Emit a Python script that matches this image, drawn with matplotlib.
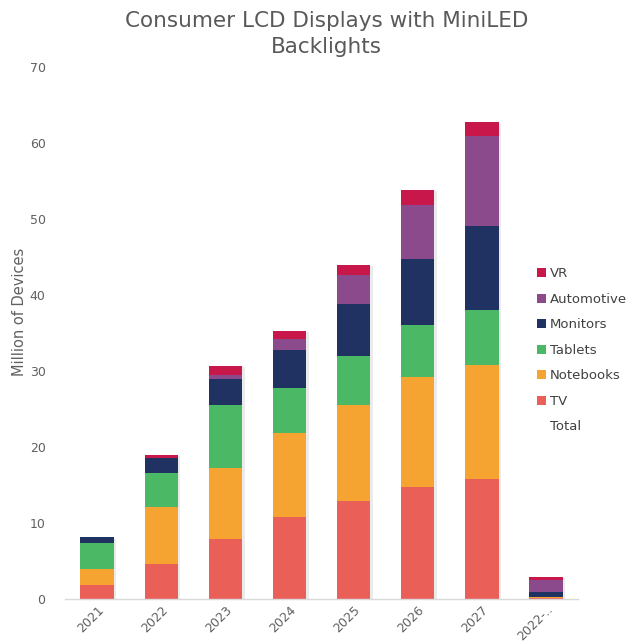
import matplotlib
matplotlib.use("Agg")
import matplotlib.pyplot as plt
import numpy as np
from matplotlib.patches import Patch

categories = ["2021", "2022", "2023", "2024", "2025", "2026", "2027", "2022-.."]
tv         = [1.8, 4.6, 7.85, 10.8, 12.9, 14.8, 15.8, 0.15]
notebooks  = [2.1, 7.5, 9.35, 11.0, 12.6, 14.4, 15.0, 0.1]
tablets    = [3.5, 4.5, 8.3, 6.0, 6.5, 6.85, 7.2, 0.05]
monitors   = [0.7, 1.9, 3.4, 4.9, 6.8, 8.65, 11.1, 0.6]
automotive = [0.0, 0.0, 0.6, 1.5, 3.8, 7.2, 11.8, 1.6]
vr         = [0.0, 0.5, 1.2, 1.1, 1.3, 1.9, 1.8, 0.35]

series_names = ["TV", "Notebooks", "Tablets", "Monitors", "Automotive", "VR"]
series_vals = [tv, notebooks, tablets, monitors, automotive, vr]
colors = ["#EA5F58", "#F5A431", "#4BB866", "#1F3262", "#8A4A8B", "#C8174B"]

plt.rcParams['font.family'] = ['DejaVu Sans']

fig = plt.figure(figsize=(6.4, 6.44), dpi=100)
ax = fig.add_axes([0.1016, 0.0699, 0.8016, 0.8261])

x = np.arange(len(categories))
bottom = np.zeros(len(categories))
width = 0.52
for name, vals, c in zip(series_names, series_vals, colors):
    v = np.array(vals)
    ax.bar(x + 0.04, v, width, bottom=bottom - 0.15, color="#d9d9d9", alpha=0.5, zorder=1, linewidth=0)
    ax.bar(x, v, width, bottom=bottom, color=c, label=name, zorder=2, linewidth=0)
    bottom += v

ax.set_xlim(-0.5, len(categories) - 0.5)
ax.set_ylim(0, 70)
ax.set_yticks(range(0, 71, 10))
ax.tick_params(axis="y", length=0, pad=14, labelsize=9, labelcolor="#606060")
ax.tick_params(axis="x", length=0, pad=3, labelsize=9, labelcolor="#606060")
ax.set_xticks(x)
ax.set_xticklabels(categories, rotation=45, ha="right", rotation_mode="anchor")
for s in ["top", "right", "left"]:
    ax.spines[s].set_visible(False)
ax.spines["bottom"].set_color("#d9d9d9")
ax.spines["bottom"].set_linewidth(1.0)

ax.set_ylabel("Million of Devices", fontsize=10.5, color="#606060")
ax.yaxis.set_label_coords(-0.075, 0.54)
fig.text(0.51, 0.947, "Consumer LCD Displays with MiniLED\nBacklights", ha="center", va="center",
         fontsize=15.5, color="#595959", linespacing=1.35)

handles = [Patch(facecolor=c, label=n) for n, c in zip(series_names, colors)][::-1]
handles.append(Patch(facecolor="none", edgecolor="none", label="Total"))
leg = fig.legend(handles=handles, loc="center left", bbox_to_anchor=(0.82, 0.456), frameon=False,
                 fontsize=9.5, handlelength=0.7, handleheight=0.7, handletextpad=0.3, labelspacing=0.95,
                 labelcolor="#404040")

fig.savefig("out.png", dpi=100, facecolor="white")
